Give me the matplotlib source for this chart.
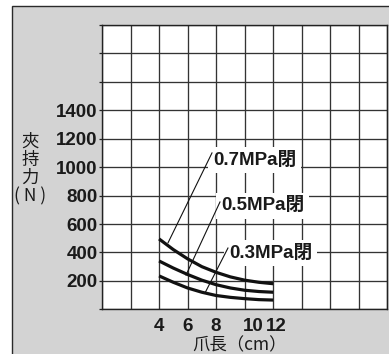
import matplotlib
matplotlib.use("Agg")
import matplotlib.pyplot as plt
import matplotlib.transforms as mtransforms
from matplotlib.patches import Rectangle

# claw length (cm) vs clamping force (N)
claw_len = [4, 5, 6, 7, 8, 9, 10, 11, 12]
force_07 = [495, 420, 355, 300, 260, 228, 205, 190, 180]
force_05 = [340, 290, 245, 205, 173, 150, 134, 125, 120]
force_03 = [235, 190, 150, 120, 97, 84, 75, 68, 65]

series_labels = ["0.7MPa閉", "0.5MPa閉", "0.3MPa閉"]
label_xy = [(7.78, 1050), (8.34, 727), (8.90, 396)]
leader_from = [(7.71, 1100), (8.27, 755), (8.83, 431)]
leader_to = [(4.63, 468), (5.89, 241), (7.22, 115)]

x_grid = list(range(0, 21, 2))
x_ticklabels = ["", "", "4", "6", "8", "10", "12", "", "", "", ""]
y_grid = list(range(0, 2001, 200))
y_ticklabels = ["", "200", "400", "600", "800", "1000", "1200", "1400", "", "", ""]

W, H = 389, 354
latin = ["Liberation Sans", "Noto Sans CJK TC"]
cjk = ["Noto Sans CJK TC", "DejaVu Sans"]

fig = plt.figure(figsize=(W / 100, H / 100), dpi=100, facecolor="white")

# grey panel with dark border on top/left
fig.patches.append(Rectangle((12 / W, -0.1), 1.2, 0.1 + (H - 6) / H,
                             transform=fig.transFigure, facecolor="#d3d3d3",
                             edgecolor="#2a2a2a", lw=1.0, zorder=-5))

ax = fig.add_axes([102 / W, (H - 309.3) / H, 285.3 / W, 284.3 / H])
ax.set_facecolor("white")
ax.set_xlim(0, 20)
ax.set_ylim(0, 2000)
ax.set_xticks(x_grid, labels=x_ticklabels)
ax.set_yticks(y_grid, labels=y_ticklabels)
ax.grid(True, color="#333333", lw=0.95, zorder=0)
ax.set_axisbelow(True)
for s in ax.spines.values():
    s.set_color("#222222")
    s.set_linewidth(1.0)
ax.tick_params(axis="x", length=0, pad=6.5)
ax.tick_params(axis="y", length=2, width=0.9, color="#222222", pad=1)
for lbl in ax.get_xticklabels() + ax.get_yticklabels():
    lbl.set_fontfamily(latin)
    lbl.set_fontweight("bold")
    lbl.set_fontsize(13.5)
    lbl.set_color("#1a1a1a")

# hand-placed offsets seen in the original for "10" and "12"
offsets = {"10": 9, "12": 3}
for lbl in ax.get_xticklabels():
    dx = offsets.get(lbl.get_text())
    if dx:
        lbl.set_transform(lbl.get_transform() +
                          mtransforms.ScaledTranslation(dx / 100, 0, fig.dpi_scale_trans))

for ys in (force_07, force_05, force_03):
    ax.plot(claw_len, ys, color="#111111", lw=2.3, solid_capstyle="butt", zorder=5)

for text, (tx, ty), (x0, y0), (x1, y1) in zip(series_labels, label_xy, leader_from, leader_to):
    ax.text(tx, ty, text, ha="left", va="center", fontsize=13.5, fontweight="bold",
            family=latin, color="#1a1a1a", zorder=3,
            bbox=dict(boxstyle="square,pad=0.25", fc="white", ec="none"))
    ax.plot([x0, x1], [y0, y1], color="#111111", lw=0.8, zorder=4)

# y label, stacked vertically
fig.text(30 / W, 1 - 169 / H, "夾\n持\n力\n( N )", ha="center", va="center",
         fontsize=12.5, family=cjk, color="#1a1a1a", linespacing=1.0,
         multialignment="center")

fig.text(240 / W, 1 - 345.5 / H, "爪長（cm）", ha="center", va="center",
         fontsize=12.5, family=cjk, color="#1a1a1a")

fig.savefig("out.png", dpi=100)
